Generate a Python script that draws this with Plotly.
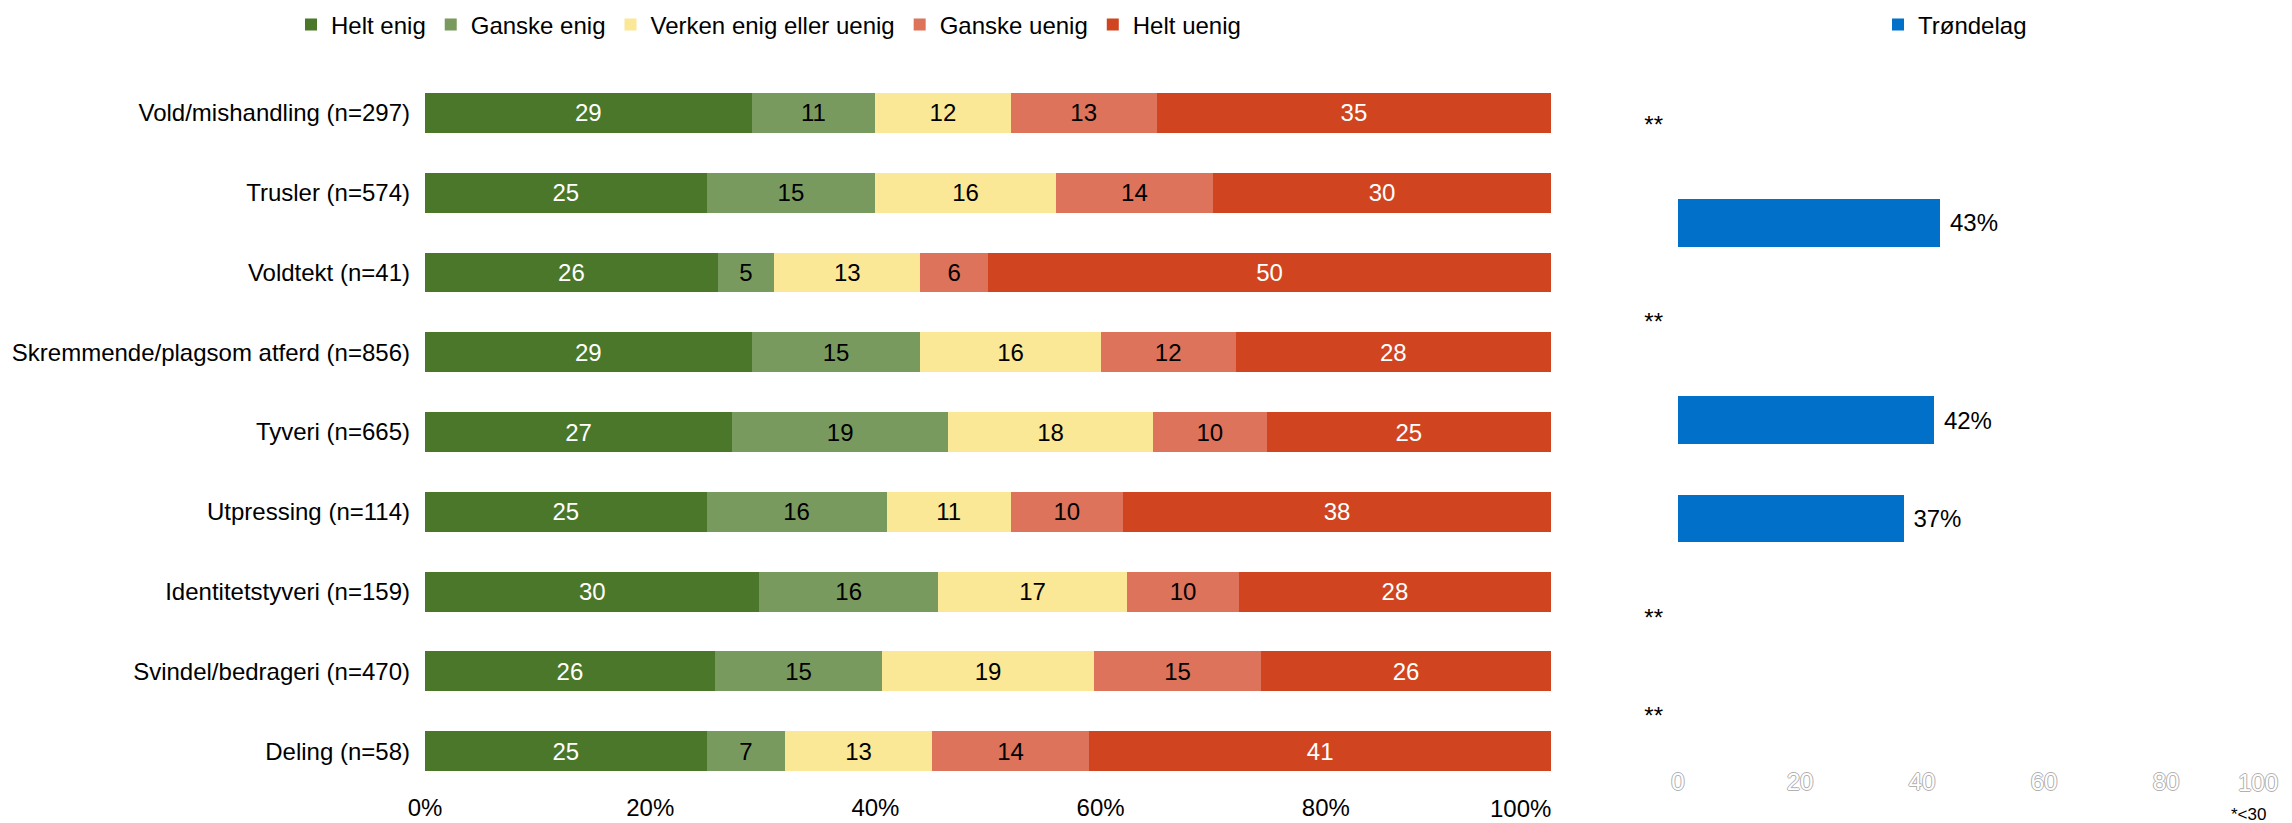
import plotly.graph_objects as go

# ---------------- data ----------------
categories = [
    "Vold/mishandling (n=297)",
    "Trusler (n=574)",
    "Voldtekt (n=41)",
    "Skremmende/plagsom atferd (n=856)",
    "Tyveri (n=665)",
    "Utpressing (n=114)",
    "Identitetstyveri (n=159)",
    "Svindel/bedrageri (n=470)",
    "Deling (n=58)",
]
series_names = ["Helt enig", "Ganske enig", "Verken enig eller uenig", "Ganske uenig", "Helt uenig"]
helt_enig = [29, 25, 26, 29, 27, 25, 30, 26, 25]
ganske_enig = [11, 15, 5, 15, 19, 16, 16, 15, 7]
verken = [12, 16, 13, 16, 18, 11, 17, 19, 13]
ganske_uenig = [13, 14, 6, 12, 10, 10, 10, 15, 14]
helt_uenig = [35, 30, 50, 28, 25, 38, 28, 26, 41]
series_values = [helt_enig, ganske_enig, verken, ganske_uenig, helt_uenig]
series_colors = ["#4a7729", "#789a5f", "#fae896", "#dc735a", "#d04520"]
text_colors = ["#ffffff", "#000000", "#000000", "#000000", "#ffffff"]
x_tick_vals = [0, 20, 40, 60, 80]
x_tick_text = ["0%", "20%", "40%", "60%", "80%"]
x_last_tick = 100
x_last_text = "100%"

right_rows = ["r1", "r2", "r3", "r4", "r5", "r6", "r7"]
right_ticktext = ["**", "", "**", "", "", "**", "**"]
trondelag = [None, 43, None, 42, 37, None, None]
right_tick_vals = [0, 20, 40, 60, 80]
right_last_tick = 100
footnote = "*<30"

W, H = 2292, 823
OFF = 8  # browser body margin offset of the plot div
FONT = "Liberation Sans, Arial, sans-serif"
OUTLINE = "-1px 0 #b0b0b0, 1px 0 #b0b0b0, 0 -1px #b0b0b0, 0 1px #b0b0b0"


def px(x):
    return (x - OFF) / W


def py(y):
    return 1 - (y - OFF) / H


# each row's bar is drawn as share of the row total (bars end at 100 %)
row_totals = [sum(vals[i] for vals in series_values) for i in range(len(categories))]

fig = go.Figure()

for name, vals, col, tcol in zip(series_names, series_values, series_colors, text_colors):
    fig.add_trace(go.Bar(
        y=categories, x=[v * 100.0 / t for v, t in zip(vals, row_totals)],
        name=name, orientation="h",
        marker=dict(color=col, line=dict(width=0)),
        text=[str(v) for v in vals], textposition="inside",
        insidetextanchor="middle", constraintext="none",
        textfont=dict(color=tcol, size=24, family=FONT),
        xaxis="x", yaxis="y", legend="legend",
    ))

fig.add_trace(go.Bar(
    y=right_rows, x=trondelag, name="Trøndelag", orientation="h",
    marker=dict(color="#0070c9", line=dict(width=0)),
    text=[(" %d%%" % v) if v is not None else "" for v in trondelag],
    textposition="outside", cliponaxis=False,
    textfont=dict(color="#000000", size=24, family=FONT),
    xaxis="x2", yaxis="y2", legend="legend2", width=0.485,
))

fig.update_layout(
    width=W, height=H,
    margin=dict(l=0, r=0, t=0, b=0, autoexpand=False),
    paper_bgcolor="white", plot_bgcolor="white",
    font=dict(family=FONT, size=24, color="#000000"),
    barmode="stack", bargap=0.5,
    showlegend=True,
    xaxis=dict(domain=[px(425), px(1551)], range=[0, 100], tickvals=x_tick_vals,
               ticktext=x_tick_text, showgrid=False, zeroline=False, showline=False,
               ticks="", tickfont=dict(size=24), automargin=False, anchor="y",
               fixedrange=True),
    yaxis=dict(domain=[py(791), py(73)], range=[len(categories) - 0.5, -0.5],
               type="category", showgrid=False, zeroline=False, showline=False,
               ticks="", ticklabelstandoff=14, tickfont=dict(size=24), automargin=False,
               anchor="x"),
    xaxis2=dict(domain=[px(1678), px(2288)], range=[0, 100], tickvals=right_tick_vals,
                showgrid=False, zeroline=False, showline=False, ticks="",
                tickfont=dict(size=24, color="#ffffff", shadow=OUTLINE),
                automargin=False, anchor="y2"),
    yaxis2=dict(domain=[py(765), py(75)], range=[len(right_rows) - 0.5, -0.5],
                type="category", tickvals=right_rows, ticktext=right_ticktext,
                showgrid=False, zeroline=False, showline=False, ticks="",
                ticklabelstandoff=14, tickfont=dict(size=24), automargin=False, anchor="x2"),
    legend=dict(orientation="h", x=px(291), y=py(25), xanchor="left", yanchor="middle",
                font=dict(size=24), bgcolor="rgba(0,0,0,0)", traceorder="normal",
                itemclick=False, itemdoubleclick=False),
    legend2=dict(orientation="h", x=px(1878), y=py(25), xanchor="left", yanchor="middle",
                 font=dict(size=24), bgcolor="rgba(0,0,0,0)"),
    annotations=[
        dict(text=footnote, x=px(2268), y=py(814), xref="paper", yref="paper",
             xanchor="right", yanchor="middle", showarrow=False,
             font=dict(size=17, color="#000000")),
        dict(text=x_last_text, x=x_last_tick, xref="x", y=py(808), yref="paper",
             xanchor="right", yanchor="middle", showarrow=False, xshift=2,
             font=dict(size=24, color="#000000")),
        dict(text=str(right_last_tick), x=right_last_tick, xref="x2", y=py(782), yref="paper",
             xanchor="right", yanchor="middle", showarrow=False, xshift=-8,
             font=dict(size=24, color="#ffffff", shadow=OUTLINE)),
    ],
)

fig.write_html("out.html")
